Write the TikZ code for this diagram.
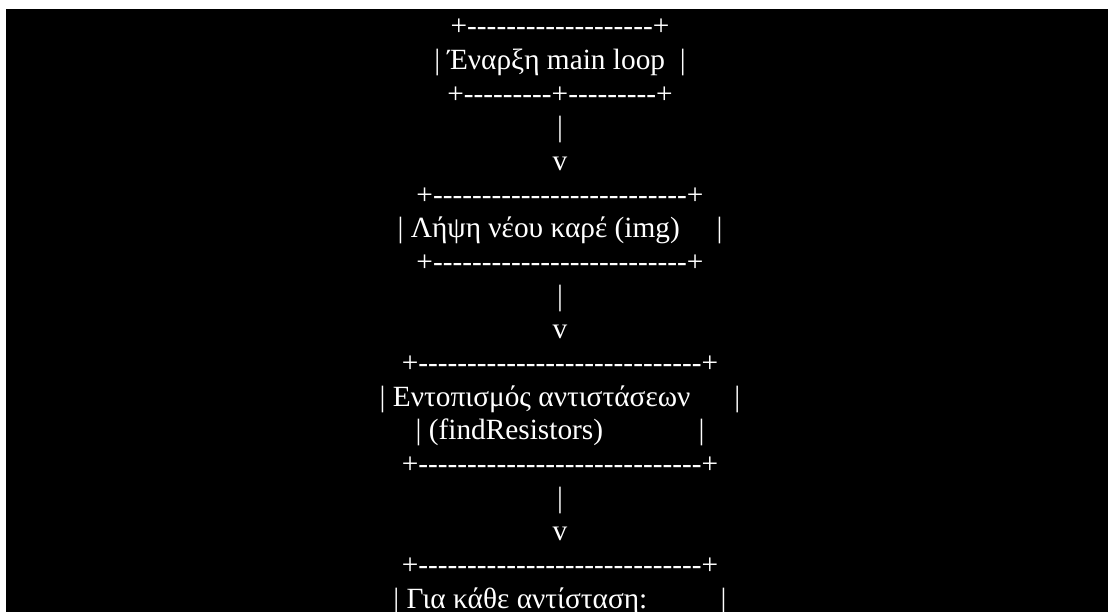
\documentclass[tikz,border=0pt]{standalone}
\usepackage{fontspec}
% plain hyphens: no -- / --- dash ligatures
\setmainfont{Liberation Serif}[Ligatures=TeXOff]
\begin{document}
\begin{tikzpicture}[x=0.75pt,y=-0.75pt,
  asc/.style={anchor=base,inner sep=0pt,outer sep=0pt,text=white,
              font=\fontsize{22}{26}\selectfont}]
% page and dark panel
\useasboundingbox (0,0) rectangle (1108,612);
\fill[white] (0,0) rectangle (1108,612);
\fill[black] (6,9) rectangle (1108,612);
% flow chart, one text line per row
\node[asc] (r1)  at (560,35.7)  {+-------------------+};
\node[asc] (r2)  at (560,69.4)  {| Έναρξη main loop~~|};
\node[asc] (r3)  at (560,103.0) {+---------+---------+};
\node[asc] (r4)  at (560,136.7) {|};
\node[asc] (r5)  at (560,170.4) {v};
\node[asc] (r6)  at (560,204.0) {+--------------------------+};
\node[asc] (r7)  at (560,237.7) {| Λήψη νέου καρέ (img)~~~~~|};
\node[asc] (r8)  at (560,271.4) {+--------------------------+};
\node[asc] (r9)  at (560,305.1) {|};
\node[asc] (r10) at (560,338.7) {v};
\node[asc] (r11) at (560,372.4) {+-----------------------------+};
\node[asc] (r12) at (560,406.1) {| Εντοπισμός αντιστάσεων~~~~~~|};
\node[asc] (r13) at (560,439.7) {| (findResistors)~~~~~~~~~~~~~|};
\node[asc] (r14) at (560,473.4) {+-----------------------------+};
\node[asc] (r15) at (560,507.1) {|};
\node[asc] (r16) at (560,540.8) {v};
\node[asc] (r17) at (560,574.4) {+-----------------------------+};
\node[asc] (r18) at (560,608.1) {| Για κάθε αντίσταση:~~~~~~~~~~|};
\end{tikzpicture}
\end{document}
